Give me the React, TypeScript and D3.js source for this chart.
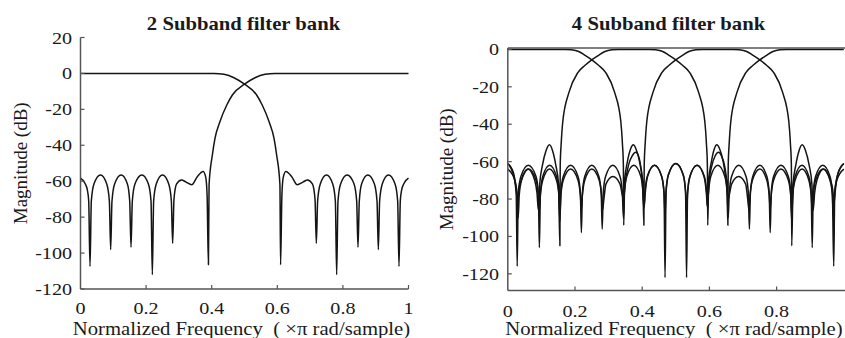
import React from 'react';
import * as d3 from 'd3';

type Pt = [number, number];

// ---------- 2 subband filter bank ----------
const title2 = '2 Subband filter bank';
const xTicks2 = [0, 0.2, 0.4, 0.6, 0.8, 1];
const xTickLabels2 = ['0', '0.2', '0.4', '0.6', '0.8', '1'];
const yTicks2 = [20, 0, -20, -40, -60, -80, -100, -120];

const highpass2: Pt[] = [
  [0.0, -58.3], [0.013, -61], [0.021, -65], [0.025, -71],
  [0.029, -107.5],
  [0.033, -71], [0.041, -61.5], [0.061, -56.5], [0.08, -61.5], [0.088, -71],
  [0.092, -98],
  [0.096, -71], [0.104, -61.5], [0.124, -56.5], [0.143, -61.5], [0.15, -71],
  [0.154, -96.7],
  [0.158, -71], [0.166, -61.5], [0.187, -56.5], [0.207, -61.5], [0.215, -71],
  [0.219, -112],
  [0.223, -71], [0.231, -61.5], [0.25, -56.5], [0.269, -61.5], [0.277, -71],
  [0.281, -94.5],
  [0.285, -70], [0.293, -61.5], [0.308, -59.3], [0.322, -60.5], [0.339, -62], [0.356, -57.5], [0.374, -54.6], [0.382, -58], [0.386, -68],
  [0.39, -106.5],
  [0.392, -62], [0.402, -45.4], [0.41, -36.1], [0.425, -26.9], [0.446, -17.6], [0.463, -12], [0.5, -6],
  [0.532, -2.4], [0.5625, -0.5], [0.593, 0], [1.0, 0],
];

const lowpass2: Pt[] = [
  [0.0, 0], [0.407, 0], [0.4375, -0.5], [0.468, -2.4], [0.5, -6], [0.537, -12], [0.554, -17.6],
  [0.575, -26.9], [0.59, -36.1], [0.598, -45.4], [0.608, -62],
  [0.61, -106.5],
  [0.614, -68], [0.618, -58], [0.626, -54.6], [0.644, -57.5], [0.661, -62], [0.678, -60.5], [0.692, -59.3], [0.707, -61.5], [0.715, -70],
  [0.719, -94.5],
  [0.723, -71], [0.731, -61.5], [0.75, -56.5], [0.769, -61.5], [0.777, -71],
  [0.781, -112],
  [0.785, -71], [0.793, -61.5], [0.813, -56.5], [0.834, -61.5], [0.842, -71],
  [0.846, -96.7],
  [0.85, -71], [0.857, -61.5], [0.876, -56.5], [0.896, -61.5], [0.904, -71],
  [0.908, -98],
  [0.912, -71], [0.92, -61.5], [0.939, -56.5], [0.959, -61.5], [0.967, -71],
  [0.971, -107.5],
  [0.975, -71], [0.979, -65], [0.987, -61], [1.0, -58.3],
];

// ---------- 4 subband filter bank ----------
const title4 = '4 Subband filter bank';
const xTicks4 = [0, 0.2, 0.4, 0.6, 0.8];
const xTickLabels4 = ['0', '0.2', '0.4', '0.6', '0.8'];
const yTicks4 = [0, -20, -40, -60, -80, -100, -120];

const band1: Pt[] = [
  [0, 0], [0.171, 0], [0.19, -0.2], [0.211, -1.1], [0.23, -3.2], [0.25, -5.6], [0.27, -8.5], [0.292, -12.5],
  [0.318, -23], [0.336, -38], [0.341, -50], [0.344, -62],
  [0.345, -94],
  [0.348, -70], [0.356, -60], [0.366, -53], [0.3735, -51], [0.381, -53], [0.392, -60], [0.4, -70],
  [0.405, -85],
  [0.408, -77], [0.415, -68], [0.4365, -62], [0.458, -68], [0.465, -77],
  [0.468, -122],
  [0.471, -76], [0.478, -67], [0.5, -61], [0.522, -67], [0.529, -76],
  [0.532, -88],
  [0.535, -77], [0.542, -68], [0.563, -62], [0.584, -68], [0.591, -77],
  [0.594, -84],
  [0.597, -77], [0.604, -68], [0.625, -62], [0.646, -68], [0.653, -77],
  [0.656, -90],
  [0.659, -77], [0.666, -68], [0.6875, -62], [0.709, -68], [0.716, -77],
  [0.719, -96],
  [0.722, -77], [0.729, -68], [0.75, -62], [0.771, -68], [0.778, -77],
  [0.781, -98],
  [0.784, -77], [0.791, -68], [0.813, -62], [0.835, -68], [0.842, -77],
  [0.845, -92],
  [0.848, -77], [0.855, -68], [0.8755, -62], [0.896, -68], [0.903, -77],
  [0.906, -106],
  [0.909, -77], [0.916, -68], [0.9375, -62], [0.959, -68], [0.966, -77],
  [0.97, -116],
  [0.973, -77], [0.98, -68], [1.0, -61],
];

const band2: Pt[] = [
  [0, -61], [0.017, -66], [0.025, -75],
  [0.029, -82],
  [0.033, -75], [0.04, -70], [0.06, -64], [0.08, -70], [0.087, -77],
  [0.091, -86],
  [0.095, -72], [0.103, -62], [0.114, -54], [0.124, -51], [0.133, -54], [0.143, -62], [0.151, -72],
  [0.155, -105],
  [0.156, -62], [0.159, -50], [0.164, -38], [0.182, -23], [0.208, -12.5], [0.23, -8.5], [0.25, -5.6],
  [0.27, -3.2], [0.289, -1.1], [0.31, -0.2], [0.329, 0], [0.421, 0],
  [0.44, -0.2], [0.461, -1.1], [0.48, -3.2], [0.5, -5.6], [0.52, -8.5], [0.542, -12.5], [0.568, -23],
  [0.586, -38], [0.591, -50], [0.594, -62],
  [0.595, -94],
  [0.598, -70], [0.606, -60], [0.615, -53], [0.622, -51], [0.63, -53], [0.641, -60], [0.651, -72],
  [0.656, -80],
  [0.659, -78], [0.666, -72], [0.687, -68], [0.708, -72], [0.714, -80],
  [0.718, -86],
  [0.721, -78], [0.728, -70], [0.75, -64], [0.771, -70], [0.778, -78],
  [0.781, -85],
  [0.784, -78], [0.791, -70], [0.813, -64], [0.835, -70], [0.842, -78],
  [0.845, -88],
  [0.848, -78], [0.855, -70], [0.876, -64], [0.896, -70], [0.903, -78],
  [0.906, -86],
  [0.909, -78], [0.916, -70], [0.938, -64], [0.959, -70], [0.966, -78],
  [0.969, -90],
  [0.972, -78], [0.979, -70], [1.0, -64],
];

const band3: Pt[] = [
  [0, -64], [0.021, -70], [0.028, -78],
  [0.031, -90],
  [0.034, -78], [0.041, -70], [0.062, -64], [0.084, -70], [0.091, -78],
  [0.094, -86],
  [0.097, -78], [0.104, -70], [0.124, -64], [0.145, -70], [0.152, -78],
  [0.155, -88],
  [0.158, -78], [0.165, -70], [0.187, -64], [0.209, -70], [0.216, -78],
  [0.219, -85],
  [0.222, -78], [0.229, -70], [0.25, -64], [0.272, -70], [0.279, -78],
  [0.282, -86],
  [0.286, -80], [0.292, -72], [0.313, -68], [0.334, -72], [0.341, -78],
  [0.344, -80],
  [0.349, -72], [0.359, -62], [0.37, -57], [0.381, -55], [0.389, -57], [0.396, -63], [0.402, -72],
  [0.405, -94],
  [0.406, -62], [0.409, -50], [0.414, -38], [0.432, -23], [0.458, -12.5], [0.48, -8.5], [0.5, -5.6],
  [0.52, -3.2], [0.539, -1.1], [0.56, -0.2], [0.579, 0], [0.671, 0],
  [0.69, -0.2], [0.711, -1.1], [0.73, -3.2], [0.75, -5.6], [0.77, -8.5], [0.792, -12.5], [0.818, -23],
  [0.836, -38], [0.841, -50], [0.844, -62],
  [0.845, -105],
  [0.849, -72], [0.857, -62], [0.867, -54], [0.876, -51], [0.886, -54], [0.897, -62], [0.905, -72],
  [0.909, -86],
  [0.913, -77], [0.92, -70], [0.94, -64], [0.96, -70], [0.967, -75],
  [0.971, -82],
  [0.975, -75], [0.983, -66], [1.0, -61],
];

const band4: Pt[] = [
  [0, -61], [0.018, -68], [0.025, -77],
  [0.028, -116],
  [0.031, -77], [0.039, -68], [0.061, -62], [0.084, -68], [0.091, -77],
  [0.094, -106],
  [0.097, -77], [0.104, -68], [0.1245, -62], [0.145, -68], [0.152, -77],
  [0.155, -92],
  [0.158, -77], [0.165, -68], [0.187, -62], [0.209, -68], [0.216, -77],
  [0.219, -98],
  [0.222, -77], [0.229, -68], [0.25, -62], [0.271, -68], [0.278, -77],
  [0.281, -96],
  [0.284, -77], [0.291, -68], [0.3125, -62], [0.334, -68], [0.341, -77],
  [0.344, -90],
  [0.347, -77], [0.354, -68], [0.375, -62], [0.396, -68], [0.403, -77],
  [0.406, -84],
  [0.409, -77], [0.416, -68], [0.437, -62], [0.458, -68], [0.465, -77],
  [0.468, -88],
  [0.471, -76], [0.478, -67], [0.5, -61], [0.522, -67], [0.529, -76],
  [0.532, -122],
  [0.535, -77], [0.542, -68], [0.5635, -62], [0.585, -68], [0.592, -77],
  [0.595, -85],
  [0.598, -72], [0.606, -63], [0.617, -57], [0.627, -55], [0.636, -57], [0.646, -63], [0.652, -72],
  [0.655, -94],
  [0.656, -62], [0.659, -50], [0.664, -38], [0.682, -23], [0.708, -12.5], [0.73, -8.5], [0.75, -5.6],
  [0.77, -3.2], [0.789, -1.1], [0.81, -0.2], [0.829, 0], [1.0, 0],
];

const xLabel = 'Normalized Frequency\u00a0\u00a0(\u00a0\u00d7\u03c0 rad/sample)';
const yLabel = 'Magnitude (dB)';

const FONT = '"Liberation Serif", "DejaVu Serif", "Times New Roman", Times, serif';
const TEXT = '#1a1a1a';
const AXIS = '#555';
const LINE = '#141414';
const SX = 1.15;

function SText(props: {
  x: number;
  y: number;
  anchor: 'start' | 'middle' | 'end';
  size: number;
  bold?: boolean;
  children: string;
}) {
  return (
    <text
      transform={`translate(${props.x},${props.y}) scale(${SX},1)`}
      textAnchor={props.anchor}
      style={{ fontFamily: FONT, fontSize: props.size, fontWeight: props.bold ? 'bold' : 'normal' }}
      fill={TEXT}
    >
      {props.children}
    </text>
  );
}

interface PanelProps {
  title: string;
  series: Pt[][];
  xDomain: [number, number];
  xRange: [number, number];
  yDomain: [number, number];
  yRange: [number, number];
  xTicks: number[];
  xTickLabels: string[];
  yTicks: number[];
  box: boolean;
  boxRight: number;
  yLabelX: number;
  xTickBaseline: number;
  yTickRight: number;
  titleX: number;
  xLabelX: number;
}

function Panel(p: PanelProps) {
  const x = d3.scaleLinear().domain(p.xDomain).range(p.xRange);
  const y = d3.scaleLinear().domain(p.yDomain).range(p.yRange);
  const line = d3
    .line<Pt>()
    .x((d) => x(d[0]))
    .y((d) => y(d[1]))
    .curve(d3.curveMonotoneX);
  const [x0] = p.xRange;
  const [yb, yt] = p.yRange;
  const yMid = (yb + yt) / 2;
  return (
    <g>
      <SText x={p.titleX} y={29.5} anchor="middle" size={18} bold>
        {p.title}
      </SText>
      {p.series.map((s, i) => (
        <path key={i} d={line(s) || ''} fill="none" stroke={LINE} strokeWidth={1.5} strokeLinejoin="round" />
      ))}
      <line x1={x0} x2={x0} y1={yt} y2={yb} stroke={AXIS} strokeWidth={1.5} />
      <line x1={x0} x2={p.boxRight} y1={yb} y2={yb} stroke={AXIS} strokeWidth={1.5} />
      {p.box && <line x1={x0} x2={p.boxRight} y1={yt} y2={yt} stroke={AXIS} strokeWidth={1.5} />}
      {p.xTicks.map((t, i) => (
        <g key={'xt' + i}>
          {t !== p.xDomain[0] && <line x1={x(t)} x2={x(t)} y1={yb} y2={yb - 4} stroke={AXIS} strokeWidth={1.2} />}
          <SText x={x(t)} y={p.xTickBaseline} anchor="middle" size={17.5}>
            {p.xTickLabels[i]}
          </SText>
        </g>
      ))}
      {p.yTicks.map((t, i) => (
        <g key={'yt' + i}>
          <line x1={x0} x2={x0 + 4} y1={y(t)} y2={y(t)} stroke={AXIS} strokeWidth={1.2} />
          <SText x={p.yTickRight} y={y(t) + 6} anchor="end" size={17.5}>
            {String(t)}
          </SText>
        </g>
      ))}
      <SText x={p.xLabelX} y={335} anchor="middle" size={18}>
        {xLabel}
      </SText>
      <text
        transform={`translate(${p.yLabelX},${yMid}) rotate(-90)`}
        textAnchor="middle"
        style={{ fontFamily: FONT, fontSize: 19 }}
        fill={TEXT}
      >
        {yLabel}
      </text>
    </g>
  );
}

export default function App() {
  return (
    <svg
      width={845}
      height={338}
      viewBox="0 0 845 338"
      style={{ position: 'absolute', left: 0, top: 0, background: '#fff' }}
    >
      <rect x={0} y={0} width={845} height={338} fill="#fff" />
      <Panel
        title={title2}
        series={[highpass2, lowpass2]}
        xDomain={[0, 1]}
        xRange={[80.5, 408.5]}
        yDomain={[-120, 20]}
        yRange={[289, 37.5]}
        xTicks={xTicks2}
        xTickLabels={xTickLabels2}
        yTicks={yTicks2}
        box={false}
        boxRight={408.5}
        yLabelX={27}
        xTickBaseline={313.5}
        yTickRight={72}
        titleX={243.5}
        xLabelX={241.5}
      />
      <Panel
        title={title4}
        series={[band1, band2, band3, band4]}
        xDomain={[0, 1]}
        xRange={[507.8, 843.8]}
        yDomain={[-128.9, 0.75]}
        yRange={[290.5, 48]}
        xTicks={xTicks4}
        xTickLabels={xTickLabels4}
        yTicks={yTicks4}
        box={true}
        boxRight={850}
        yLabelX={453}
        xTickBaseline={316.5}
        yTickRight={499}
        titleX={668.5}
        xLabelX={674}
      />
    </svg>
  );
}
